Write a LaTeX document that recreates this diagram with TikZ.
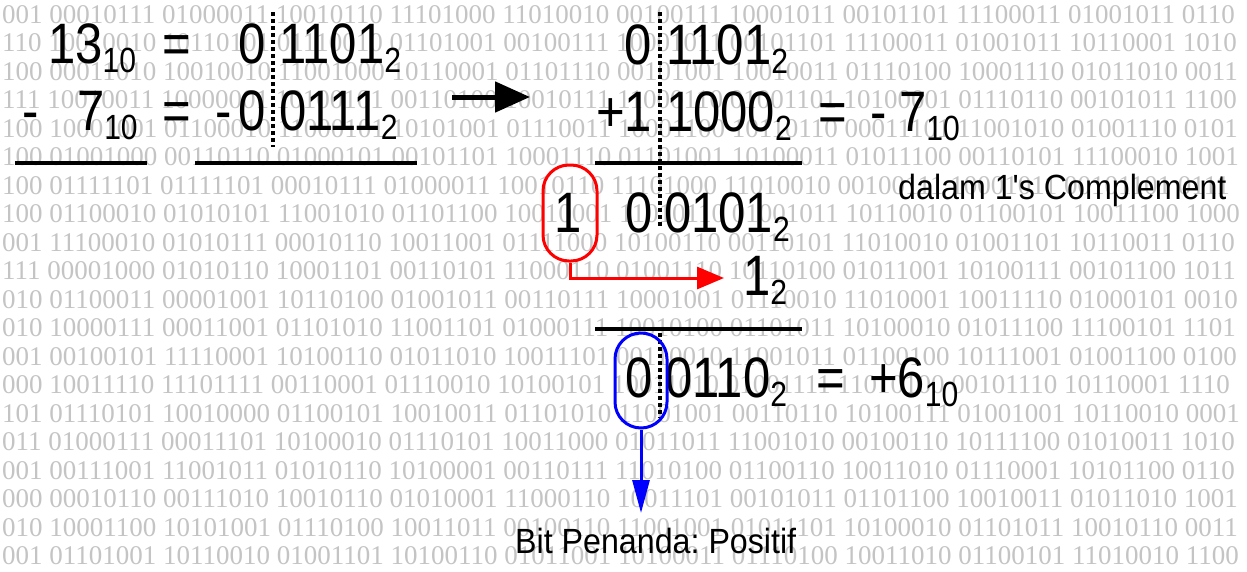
\documentclass[tikz,border=0pt]{standalone}
\usepackage{fontspec}
\setmainfont{Liberation Sans}
\newfontfamily\nar[FakeStretch=0.86]{Liberation Sans}
\newfontfamily\sml[FakeStretch=0.92]{Liberation Sans}
\newfontfamily\bgf{Liberation Serif}
\usetikzlibrary{arrows.meta}
\frenchspacing
\newcommand{\sbx}[1]{\raisebox{-9pt}{\fontsize{35}{37}\selectfont #1}}
\tikzset{
  big/.style={font=\nar\fontsize{57}{60}\selectfont, inner sep=0pt, outer sep=0pt},
  lbl/.style={font=\sml\fontsize{35}{40}\selectfont, inner sep=0pt, anchor=base west},
  rule/.style={line width=3.5pt},
  dots/.style={line width=3.5pt, dash pattern=on 4pt off 3pt},
  bgrow/.style={font=\bgf\fontsize{27}{27}\selectfont, text=black!23, inner sep=0pt, anchor=base west},
  oval/.style={line width=3pt, minimum width=54pt, minimum height=96pt, rounded corners=26pt, inner sep=0pt},
}
\begin{document}
\begin{tikzpicture}[x=1pt,y=-1pt]
\useasboundingbox[fill=white] (0,0) rectangle (1247,571);
% background texture of binary digits
\foreach \k/\s in {0/001 00010111 01000011 10010110 11101000 11010010 00100111 10001011 00101101 11100011 01001011 0110,
  1/110 10010010 10110101 01110010 01101001 00100111 10001011 00101101 11100011 01001011 10110001 1010,
  2/100 00011010 10010010 11001000 10110001 01101110 00101001 10010011 01110100 10001110 01011010 0011,
  3/111 10010011 10000001 10100101 00110100 10010111 11000110 01001101 10100001 01110110 00101011 1100,
  4/100 10001001 01100010 11000101 10101001 01110011 10001100 10110110 00011101 11001010 01001110 0101,
  5/100 01001000 00110110 01000101 00101101 10001110 01101001 10100011 01011100 00110101 11100010 1001,
  6/100 01111101 01111101 00010111 01000011 10010110 11101000 11010010 00100111 10001011 00101101 0111,
  7/100 01100010 01010101 11001010 01101100 10010001 11010110 01001011 10110010 01100101 10011100 1000,
  8/001 11100010 01010111 00010110 10011001 01111000 10100110 00110101 11010010 01001101 10110011 0110,
  9/111 00001000 01010110 10001101 00110101 11000110 01001110 10110100 01011001 10100111 00101100 1011,
  10/010 01100011 00001001 10110100 01001011 00110111 10001001 01110010 11010001 10011110 01000101 0010,
  11/010 10000111 00011001 01101010 11001101 01000111 10010100 01101011 10100010 01011100 11100101 1101,
  12/001 00100101 11110001 10100110 01011010 10011101 00110010 11001011 01100100 10111001 01001100 0100,
  13/000 10011110 11101111 00110001 01110010 10100101 10011010 01001111 11010100 00101110 10110001 1110,
  14/101 01110101 10010000 01100101 10010011 01101010 11001001 00110110 10100111 01001001 10110010 0001,
  15/011 01000111 00011101 10100010 01110101 10011000 01011011 11001010 00100110 10111100 01010011 1010,
  16/001 00111001 11001011 01010110 10100001 00110111 11010100 01100110 10011010 01110001 10101100 0110,
  17/000 00010110 00111010 10010110 01010001 11000110 10011101 00101011 01101100 10010011 01011010 1001,
  18/010 10001100 10101001 01110100 10011011 00100110 11001001 01011101 10100010 01101011 10010110 0011,
  19/001 01101001 10110010 01001101 10100110 01011001 10100011 01110100 10011010 01100101 11010010 1100}
  \node[bgrow] (bg\k) at (2, 23+28.5*\k) {\s};
% left block
\node[big, anchor=base west] (l13) at (48,63) {13\sbx{10}};
\node[big, anchor=base] (leq1) at (177,63) {=};
\node[big, anchor=base east] (lz1) at (266,63) {0};
\node[big, anchor=base west] (lr1) at (279,63) {1101\sbx{2}};
\node[big, anchor=base] (lmin) at (31,130) {-};
\node[big, anchor=base west] (l7) at (77,130) {7\sbx{10}};
\node[big, anchor=base] (leq2) at (177,130) {=};
\node[big, anchor=base] (lmin2) at (224,130) {-};
\node[big, anchor=base east] (lz2) at (266,130) {0};
\node[big, anchor=base west] (lr2) at (279,130) {0111\sbx{2}};
\coordinate (ll1) at (15,163); \coordinate (ll2) at (147,163);
\coordinate (lr1a) at (195,163); \coordinate (lr1b) at (417,163);
\draw[rule] (ll1) -- (ll2);
\draw[rule] (lr1a) -- (lr1b);
\coordinate (ldt) at (273,12); \coordinate (ldb) at (273,147);
\draw[dots] (ldt) -- (ldb);
% arrow
\coordinate (arrS) at (452,97); \coordinate (arrE) at (530,97);
\draw[line width=5pt, -{Triangle[length=35pt,width=30pt]}] (arrS) -- (arrE);
% right block
\node[big, anchor=base east] (rz1) at (652,64) {0};
\node[big, anchor=base west] (rr1) at (666,64) {1101\sbx{2}};
\node[big, anchor=base east] (rp1) at (652,131) {+1};
\node[big, anchor=base west] (rr2) at (666,131) {1000\sbx{2}};
\node[big, anchor=base] (req2) at (833,131) {=};
\node[big, anchor=base] (rmin) at (879,131) {-};
\node[big, anchor=base west] (r7) at (899,131) {7\sbx{10}};
\coordinate (rl1a) at (595,163); \coordinate (rl1b) at (802,163);
\draw[rule] (rl1a) -- (rl1b);
\coordinate (rdt) at (660,12); \coordinate (rdb) at (660,228);
\draw[dots] (rdt) -- (rdb);
\node[lbl] (dalam) at (898,199) {dalam 1's Complement};
% carry
\node[oval, draw=red] (redov) at (570,213) {};
\node[big, anchor=base] (carry) at (568,232) {1};
\node[big, anchor=base east] (rz3) at (653,232) {0};
\node[big, anchor=base west] (rr3) at (664,232) {0101\sbx{2}};
\coordinate (redtip) at (724,278);
\draw[red, line width=3pt, -{Triangle[length=27pt,width=22pt]}] (redov.south) |- (redtip);
\node[big, anchor=base west] (one2) at (743,295) {1\sbx{2}};
\coordinate (rl2a) at (595,329); \coordinate (rl2b) at (802,329);
\draw[rule] (rl2a) -- (rl2b);
% result
\node[big, anchor=base east] (rz4) at (653,397) {0};
\node[big, anchor=base west] (rr4) at (665,397) {0110\sbx{2}};
\node[big, anchor=base] (req4) at (831,397) {=};
\node[big, anchor=base west] (r6) at (869,397) {+6\sbx{10}};
\coordinate (rdt2) at (660,333); \coordinate (rdb2) at (660,418);
\draw[dots] (rdt2) -- (rdb2);
\node[oval, draw=blue, minimum width=52pt, minimum height=95pt] (blueov) at (641,380.5) {};
\coordinate (bluetip) at (641,513);
\draw[blue, line width=3pt, -{Triangle[length=33pt,width=17pt]}] (blueov.south) -- (bluetip);
\node[lbl] (bit) at (515,553) {Bit Penanda: Positif};
\end{tikzpicture}
\end{document}
